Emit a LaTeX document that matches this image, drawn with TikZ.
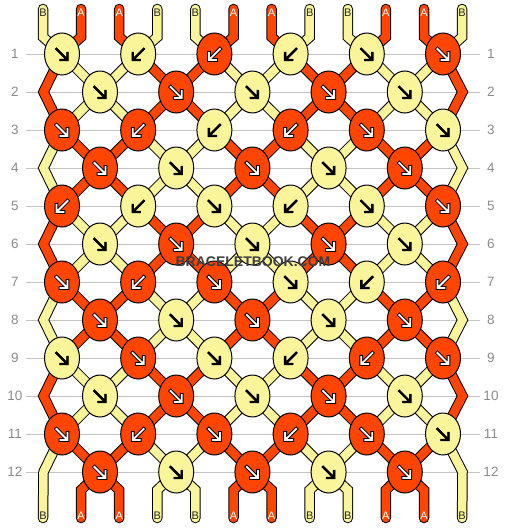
\documentclass[tikz,border=0pt]{standalone}
\usepackage{fontspec}
\setmainfont{Liberation Sans}
\usetikzlibrary{shapes.geometric}
\definecolor{cA}{HTML}{FF4500}
\definecolor{cB}{HTML}{FAF59B}
\colorlet{knotO}{cA}
\colorlet{knotY}{cB}
\definecolor{gridc}{HTML}{C4C4C4}
\definecolor{numc}{HTML}{8A8A8A}
\definecolor{wmc}{HTML}{3E3E3E}
\pgfdeclarelayer{bg}
\pgfsetlayers{bg,main}
\tikzset{
  knot/.style={ellipse, minimum width=35pt, minimum height=42pt, draw=black, line width=1pt, inner sep=0pt},
  strout/.style={line width=10.5pt, draw=black, line join=miter, line cap=round},
  strin/.style={line width=8.5pt, line join=miter, line cap=round},
  gridline/.style={draw=gridc, line width=1pt},
  rownum/.style={text=numc, font=\fontsize{13.5}{14}\selectfont, inner sep=0pt},
  endlab/.style={font=\fontsize{11}{12}\selectfont, inner sep=0pt},
  arrowpart/.style={line join=miter, line cap=rect},
}
\newcommand\strand[2]{\draw[strout] #2; \draw[strin, draw=#1] #2;}
\newcommand\knotrow[2]{%
  \foreach[count=\k] \kc/\kd in {#2}{%
    \pgfmathsetmacro\kx{ifthenelse(isodd(#1),62,100)+76.2*(\k-1)}%
    \pgfmathsetmacro\ky{54+38*(#1-1)}%
    \node[knot, fill=knot\kc] (k-#1-\k) at (\kx,\ky) {};
    \if\kc O\def\aow{3.8pt}\def\aic{white}\else\def\aow{2.4pt}\def\aic{black}\fi
    \begin{scope}[shift={(k-#1-\k.center)}, xscale=\kd]
      \draw[arrowpart, line width=\aow, black] (-5.5,-5) -- (4.5,5) (5.5,-1) -- (5.5,6) -- (-1.5,6);
      \draw[arrowpart, line width=1.8pt, \aic] (-5.5,-5) -- (4.5,5) (5.5,-1) -- (5.5,6) -- (-1.5,6);
    \end{scope}
  }}
\begin{document}
\begin{tikzpicture}[x=1pt,y=-1pt]
\useasboundingbox (0,0) rectangle (506,528);
% knots
\knotrow{1}{Y/1,Y/-1,O/-1,Y/-1,Y/1,O/1}
\knotrow{2}{Y/1,O/1,Y/1,O/1,Y/1}
\knotrow{3}{O/1,O/-1,Y/-1,O/-1,O/1,Y/1}
\knotrow{4}{O/1,Y/1,O/1,Y/1,O/1}
\knotrow{5}{O/-1,Y/-1,Y/1,Y/-1,Y/1,O/1}
\knotrow{6}{Y/1,O/1,Y/1,O/1,Y/1}
\knotrow{7}{O/1,O/-1,O/1,Y/1,Y/-1,O/-1}
\knotrow{8}{O/1,Y/1,O/1,Y/1,O/1}
\knotrow{9}{Y/1,O/1,Y/1,Y/-1,O/-1,O/1}
\knotrow{10}{Y/1,O/1,Y/1,O/1,Y/1}
\knotrow{11}{O/1,O/-1,O/1,O/-1,O/1,Y/1}
\knotrow{12}{O/1,Y/1,O/1,Y/1,O/1}
% edge turning points in even rows
\foreach \r in {2,4,...,12}{
  \pgfmathsetmacro\ey{54+38*(\r-1)}
  \coordinate (k-\r-0) at (43.5,\ey);
  \coordinate (k-\r-6) at (462.5,\ey);
}
% row lines and numbers
\foreach \r in {1,...,12}{
  \pgfmathsetmacro\yy{54+38*(\r-1)}
  \coordinate (gl-\r) at (26,\yy);
  \coordinate (gr-\r) at (480,\yy);
  \node[rownum] (nl-\r) at (15,\yy) {\r};
  \node[rownum] (nr-\r) at (491,\yy) {\r};
}
% string ends and labels
\foreach \i in {1,...,12}{
  \pgfmathsetmacro\sx{43+38.1*(\i-1)}
  \pgfmathtruncatemacro\base{or(mod(\i,4)==2, mod(\i,4)==3)}
  \coordinate (top-\i) at (\sx,9);
  \coordinate (topb-\i) at (\sx,37);
  \coordinate (botb-\i) at (\sx,490);
  \coordinate (bot-\i) at (\sx,518);
  \ifnum\base=1
    \node[endlab, text=white] (lt-\i) at (\sx,13) {A};
    \node[endlab, text=white] (lb-\i) at (\sx,516) {A};
  \else
    \node[endlab, text=black!85] (lt-\i) at (\sx,13) {B};
    \node[endlab, text=black!85] (lb-\i) at (\sx,516) {B};
  \fi
}
\node[font=\bfseries\fontsize{14}{14}\selectfont, text=wmc, inner sep=0pt] (wm) at (253,262) {BRACELETBOOK.COM};
\begin{pgfonlayer}{bg}
  \foreach \r in {1,...,12}{ \draw[gridline] (gl-\r) -- (gr-\r); }
  % top strands
  \foreach \i in {1,...,12}{
    \pgfmathtruncatemacro\base{or(mod(\i,4)==2, mod(\i,4)==3)}
    \pgfmathtruncatemacro\kk{ceil(\i/2)}
    \ifnum\base=1 \def\scol{cA}\else\def\scol{cB}\fi
    \strand{\scol}{(top-\i) -- (topb-\i) -- (k-1-\kk.center)}
  }
  % bottom strands (inner positions)
  \foreach \i in {2,...,11}{
    \pgfmathtruncatemacro\base{or(mod(\i,4)==2, mod(\i,4)==3)}
    \pgfmathtruncatemacro\kk{floor(\i/2)}
    \ifnum\base=1 \def\scol{cA}\else\def\scol{cB}\fi
    \strand{\scol}{(k-12-\kk.center) -- (botb-\i) -- (bot-\i)}
  }
  % inner segments between rows
  \foreach \g in {1,...,11}{
    \pgfmathtruncatemacro\gn{\g+1}
    \pgfmathtruncatemacro\ph{or(mod(\g,4)==1, mod(\g,4)==2)}
    \foreach \i in {2,...,11}{
      \pgfmathtruncatemacro\base{or(mod(\i,4)==2, mod(\i,4)==3)}
      \pgfmathtruncatemacro\isA{mod(\base+\ph,2)}
      \pgfmathtruncatemacro\ka{ifthenelse(isodd(\g), ceil(\i/2), floor(\i/2))}
      \pgfmathtruncatemacro\kb{ifthenelse(isodd(\gn), ceil(\i/2), floor(\i/2))}
      \ifnum\isA=1 \def\scol{cA}\else\def\scol{cB}\fi
      \strand{\scol}{(k-\g-\ka.center) -- (k-\gn-\kb.center)}
    }
  }
  % edge strands
  \foreach \r in {1,3,5,7,9}{
    \pgfmathtruncatemacro\rb{\r+1}
    \pgfmathtruncatemacro\rc{\r+2}
    \pgfmathtruncatemacro\ea{mod(\r,4)==1}
    \ifnum\ea=1 \def\scol{cA}\else\def\scol{cB}\fi
    \strand{\scol}{(k-\r-1.center) -- (k-\rb-0) -- (k-\rc-1.center)}
    \strand{\scol}{(k-\r-6.center) -- (k-\rb-6) -- (k-\rc-6.center)}
  }
  \strand{cB}{(k-11-1.center) -- (k-12-0) -- (bot-1)}
  \strand{cB}{(k-11-6.center) -- (k-12-6) -- (bot-12)}
\end{pgfonlayer}
\end{tikzpicture}
\end{document}
